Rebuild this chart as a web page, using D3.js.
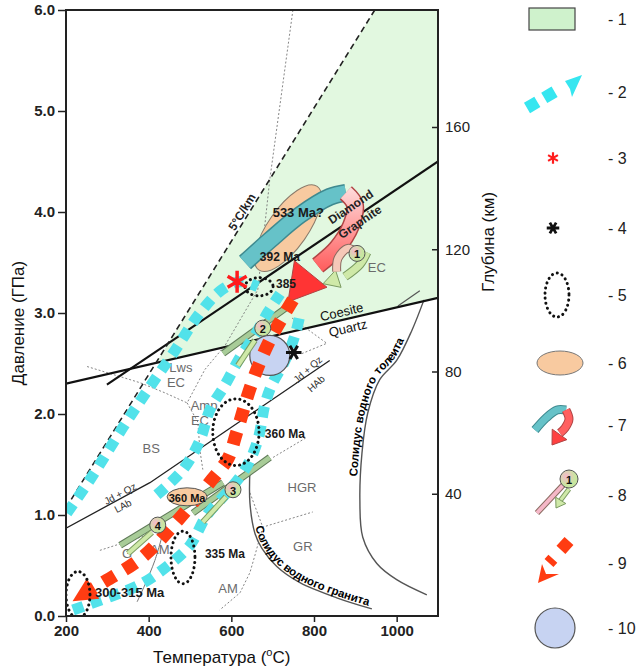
<!DOCTYPE html>
<html lang="ru">
<head>
<meta charset="utf-8">
<title>P-T diagram</title>
<script src="https://d3js.org/d3.v7.min.js"></script>
<style>
  body { margin: 0; background: #fff; }
  svg text { font-family: Arial, "Liberation Sans", sans-serif; }
</style>
</head>
<body>
<svg id="chart" width="642" height="670"></svg>
<script>
// ---- data (temperature °C, pressure GPa) ----
const tempTicks = [200, 400, 600, 800, 1000];
const pressTicks = [0, 1, 2, 3, 4, 5, 6];
const depthTicks = [40, 80, 120, 160];

const greenField = [[417, 2.50], [947, 6.0], [1100, 6.0], [1100, 3.15]];
const gradient5 = [[200, 1.07], [947, 6.0]];
const diamondGraphite = [[299, 2.29], [1100, 4.5]];
const coesiteQuartz = [[200, 2.30], [1100, 3.15]];
const jadeiteAlbite = [[200, 0.87], [403, 1.32], [838, 2.53]];
const wetGraniteSolidus = [[645, 1.45], [645, 1.12], [657, 0.82], [674, 0.67], [710, 0.49], [766, 0.33], [855, 0.18], [940, 0.07]];
const wetTholeiiteSolidus = [[1073, 0.21], [1000, 0.36], [952, 0.52], [918, 0.78], [911, 1.15], [916, 1.61], [930, 2.01], [959, 2.34], [1000, 2.53], [1037, 2.83], [1066, 3.13]];
const shortGrey = [[1003, 3.07], [1056, 3.22]];
const greyAm = [[435, 0.83], [415, 0.55], [391, 0.31], [372, 0.14]];
const faciesLines = [
  [[749, 6.0], [693, 4.32], [664, 3.23], [585, 2.68], [536, 2.44], [493, 2.11]],
  [[251, 2.47], [379, 2.31], [439, 2.21], [493, 2.11]],
  [[493, 2.11], [519, 1.92], [524, 1.64], [531, 1.45]],
  [[747, 2.95], [831, 2.70], [766, 2.59]],
  [[701, 1.57], [783, 1.77]],
  [[645, 1.22], [676, 0.88], [797, 1.03]],
  [[676, 0.88], [657, 0.60], [645, 0.43], [621, 0.23], [572, 0.06]],
  [[282, 0.65], [403, 0.81]]
];
const faciesNames = [["EC", 952, 3.45], ["Lws", 478, 2.46], ["EC", 466, 2.31], ["Amp", 534, 2.08], ["EC", 524, 1.94],
  ["BS", 406, 1.66], ["HGR", 771, 1.27], ["GR", 773, 0.69], ["AM", 592, 0.27], ["AM", 427, 0.66], ["G", 348, 0.62]];

const cyanPathA = [[202, 1.02], [258, 1.35], [338, 1.87], [403, 2.27], [459, 2.60], [524, 3.00], [577, 3.23], [621, 3.31], [664, 3.26]];
const cyanPathB = [[420, 1.20], [483, 1.45], [524, 1.74], [548, 2.04], [585, 2.29], [621, 2.56], [657, 2.78], [689, 3.01], [718, 3.19]];
const cyanPathC = [[217, 0.06], [306, 0.19], [379, 0.31], [444, 0.49], [500, 0.70], [541, 1.00], [589, 1.22], [633, 1.45], [664, 1.74], [681, 2.09], [698, 2.29], [730, 2.53], [754, 2.78], [766, 2.98]];
const redPath = [[749, 3.13], [693, 2.73], [650, 2.31], [613, 1.82], [592, 1.56], [553, 1.35], [471, 0.95], [384, 0.58], [289, 0.33], [253, 0.24]];

const loopTeal = [[633, 3.50], [693, 3.72], [766, 3.97], [838, 4.15], [877, 4.19]];
const loopRed = [[877, 4.19], [899, 4.07], [889, 3.86], [855, 3.64], [809, 3.47]];
const loopTip = [737, 3.11];

// dotted age ellipses: T, P, dT, dP
const dottedEllipses = [[667, 3.26, 34, 0.09], [611, 1.82, 56, 0.33], [483, 0.58, 29, 0.26], [229, 0.21, 29, 0.23]];
const peachAreas = [[737, 3.84], [493, 1.18]];
const ageLabels = [["533 Ma?", 700, 3.95], ["392 Ma", 669, 3.51], ["385", 708, 3.25], ["360 Ma", 681, 1.76], ["335 Ma", 536, 0.57], ["300-315 Ma", 270, 0.19]];

const stageNo = [1, 2, 3, 4];
const stageCircle = [[904, 3.59], [676, 2.85], [604, 1.25], [422, 0.90]];
const stageBars = [[[855, 3.41], [858, 3.54], [882, 3.64], [904, 3.59]], [[580, 2.60], [742, 3.08]], [[507, 1.02], [693, 1.57]], [[331, 0.70], [580, 1.32]]];
const stageArrows = [[[928, 3.60], [911, 3.48], [875, 3.36], [822, 3.29]], [[657, 2.73], [616, 2.48]], [[587, 1.18], [531, 0.93]], [[408, 0.83], [350, 0.62]]];

const peakRed = [614, 3.31];
const peakBlack = [751, 2.61];
const blueField = [693, 2.58];

const legendLabels = ["- 1", "- 2", "- 3", "- 4", "- 5", "- 6", "- 7", "- 8", "- 9", "- 10"];

// ---- scales ----
const svg = d3.select("#chart");
const x = d3.scaleLinear().domain([200, 1100]).range([66, 438]);
const y = d3.scaleLinear().domain([0, 6]).range([616, 10]);
const depth = d3.scaleLinear().domain([0, 160]).range([616, 127]);

const line = d3.line().x(d => x(d[0])).y(d => y(d[1]));
const smooth = d3.line().x(d => x(d[0])).y(d => y(d[1])).curve(d3.curveCatmullRom.alpha(0.5));

const defs = svg.append("defs");
defs.append("clipPath").attr("id", "clip").append("rect")
  .attr("x", 66).attr("y", 10).attr("width", 372).attr("height", 606);
const rg = defs.append("linearGradient").attr("id", "redgrad")
  .attr("gradientUnits", "userSpaceOnUse").attr("x1", 0).attr("y1", 190).attr("x2", 0).attr("y2", 300);
rg.append("stop").attr("offset", 0).attr("stop-color", "#ffd8d8");
rg.append("stop").attr("offset", 1).attr("stop-color", "#ff3030");
const cg = defs.append("radialGradient").attr("id", "stagegrad").attr("cx", "35%").attr("cy", "35%");
cg.append("stop").attr("offset", 0).attr("stop-color", "#f6b8cc");
cg.append("stop").attr("offset", 1).attr("stop-color", "#c8e6a0");

const plot = svg.append("g").attr("clip-path", "url(#clip)");

function text(g, str, px, py, o) {
  const t = g.append("text").attr("x", px).attr("y", py).text(str)
    .attr("font-size", o.size || 12).attr("fill", o.fill || "#111")
    .attr("font-weight", o.weight || "normal")
    .attr("text-anchor", o.anchor || "middle")
    .attr("dominant-baseline", o.base || "central");
  if (o.rot) t.attr("transform", `rotate(${o.rot},${px},${py})`);
  if (o.family) t.attr("font-family", o.family);
  return t;
}

function arrowHead(g, from, to, len, half, fill, stroke) {
  const dx = to[0] - from[0], dy = to[1] - from[1], L = Math.hypot(dx, dy);
  const ux = dx / L, uy = dy / L;
  const bx = to[0] - ux * len, by = to[1] - uy * len;
  g.append("path")
    .attr("d", `M${to[0]},${to[1]}L${bx - uy * half},${by + ux * half}L${bx + uy * half},${by - ux * half}Z`)
    .attr("fill", fill).attr("stroke", stroke || "none").attr("stroke-width", 1);
}

// field 1
plot.append("path").datum(greenField).attr("d", d => line(d) + "Z").attr("fill", "#e2f8e0");

// facies boundaries
plot.selectAll(".facies").data(faciesLines).join("path")
  .attr("d", line).attr("fill", "none").attr("stroke", "#777")
  .attr("stroke-width", 0.9).attr("stroke-dasharray", "2,2");
plot.append("path").datum(greyAm).attr("d", smooth).attr("fill", "none").attr("stroke", "#777").attr("stroke-width", 1);

// solidus curves
plot.append("path").datum(wetGraniteSolidus).attr("id", "granite").attr("d", smooth)
  .attr("fill", "none").attr("stroke", "#555").attr("stroke-width", 1.4);
plot.append("path").datum(wetTholeiiteSolidus).attr("id", "tholeiite").attr("d", smooth)
  .attr("fill", "none").attr("stroke", "#555").attr("stroke-width", 1.4);
plot.append("path").datum(shortGrey).attr("d", line).attr("stroke", "#555").attr("stroke-width", 1.2);

plot.append("text").attr("font-size", 11.5).attr("font-weight", "bold").attr("dy", -2)
  .append("textPath").attr("href", "#granite").attr("startOffset", 58).text("Солидус водного гранита");
plot.append("text").attr("font-size", 11.5).attr("font-weight", "bold").attr("dy", -3)
  .append("textPath").attr("href", "#tholeiite").attr("startOffset", 150).text("Солидус водного толеита");

// reaction lines
plot.append("path").datum(jadeiteAlbite).attr("d", line).attr("fill", "none").attr("stroke", "#222").attr("stroke-width", 1.3);
plot.append("path").datum(coesiteQuartz).attr("d", line).attr("stroke", "#111").attr("stroke-width", 2.2);
plot.append("path").datum(diamondGraphite).attr("d", line).attr("stroke", "#111").attr("stroke-width", 2.2);
plot.append("path").datum(gradient5).attr("d", line).attr("stroke", "#222")
  .attr("stroke-width", 1.6).attr("stroke-dasharray", "6,4");

// facies names
faciesNames.forEach(d => text(plot, d[0], x(d[1]), y(d[2]), { size: 13, fill: "#6b6b6b" }));

// peach age areas
plot.append("ellipse").attr("cx", x(peachAreas[0][0])).attr("cy", y(peachAreas[0][1]))
  .attr("rx", 51).attr("ry", 20).attr("transform", `rotate(-55,${x(peachAreas[0][0])},${y(peachAreas[0][1])})`)
  .attr("fill", "#f8caa0").attr("stroke", "#8a7a6a").attr("stroke-width", 1);

// exhumation loop (legend 7)
plot.append("path").datum(loopTeal).attr("d", smooth).attr("fill", "none").attr("stroke", "#3f8a90").attr("stroke-width", 18);
plot.append("path").datum(loopTeal).attr("d", smooth).attr("fill", "none").attr("stroke", "#66c2c8").attr("stroke-width", 15);
plot.append("path").datum(loopRed).attr("d", smooth).attr("fill", "none").attr("stroke", "#b04444").attr("stroke-width", 18);
plot.append("path").datum(loopRed).attr("d", smooth).attr("fill", "none").attr("stroke", "url(#redgrad)").attr("stroke-width", 15);
{
  const last = loopRed[loopRed.length - 1];
  const from = [x(last[0]) + 8, y(last[1]) - 10], to = [x(loopTip[0]), y(loopTip[1])];
  arrowHead(plot, from, to, 36, 21, "#ff3434", "#b04444");
}

// stage bars 2-4
stageBars.slice(1).forEach(b => {
  plot.append("path").datum(b).attr("d", line).attr("stroke", "#5f7a58").attr("stroke-width", 7);
  plot.append("path").datum(b).attr("d", line).attr("stroke", "#a8cc98").attr("stroke-width", 5);
});

// cyan prograde paths
[cyanPathA, cyanPathB, cyanPathC].forEach(p => {
  plot.append("path").datum(p).attr("d", smooth).attr("fill", "none")
    .attr("stroke", "#52e2ea").attr("stroke-width", 11).attr("stroke-dasharray", "11,8");
});

// blue field
plot.append("circle").attr("cx", x(blueField[0])).attr("cy", y(blueField[1])).attr("r", 20)
  .attr("fill", "#c7d3f2").attr("stroke", "#555").attr("stroke-width", 1.2);

// red exhumation path
plot.append("path").datum(redPath).attr("d", smooth).attr("fill", "none")
  .attr("stroke", "#ff3c12").attr("stroke-width", 13).attr("stroke-dasharray", "13,11");
{
  const a = redPath[redPath.length - 2], b = redPath[redPath.length - 1];
  const pa = [x(a[0]), y(a[1])], pb = [x(b[0]), y(b[1])];
  const L = Math.hypot(pb[0] - pa[0], pb[1] - pa[1]);
  const tip = [pb[0] + (pb[0] - pa[0]) / L * 18, pb[1] + (pb[1] - pa[1]) / L * 18];
  arrowHead(plot, pb, tip, 24, 12, "#ff3c12");
}

// small peach ellipse (360 Ma)
plot.append("ellipse").attr("cx", x(peachAreas[1][0])).attr("cy", y(peachAreas[1][1]))
  .attr("rx", 20).attr("ry", 9).attr("fill", "#f8caa0").attr("stroke", "#555").attr("stroke-width", 1);
text(plot, "360 Ma", x(peachAreas[1][0]), y(peachAreas[1][1]) + 1, { size: 11, weight: "bold", family: "'Liberation Serif', serif" });

// dotted age ellipses
plot.selectAll(".dotted").data(dottedEllipses).join("ellipse")
  .attr("cx", d => x(d[0])).attr("cy", d => y(d[1]))
  .attr("rx", d => x(d[0] + d[2]) - x(d[0])).attr("ry", d => y(d[1] - d[3]) - y(d[1]))
  .attr("fill", "none").attr("stroke", "#111").attr("stroke-width", 3)
  .attr("stroke-linecap", "round").attr("stroke-dasharray", "0.1,5");

// asterisks
plot.append("path").attr("d", d3.symbol().type(d3.symbolAsterisk).size(340)())
  .attr("transform", `translate(${x(peakRed[0])},${y(peakRed[1])})`)
  .attr("stroke", "#ff1c1c").attr("stroke-width", 3.5).attr("fill", "none");
plot.append("path").attr("d", d3.symbol().type(d3.symbolAsterisk).size(170)())
  .attr("transform", `translate(${x(peakBlack[0])},${y(peakBlack[1])}) rotate(90)`)
  .attr("stroke", "#111").attr("stroke-width", 3).attr("fill", "none");

// stage markers
stageArrows.forEach((a, i) => {
  const w = i === 0 ? 7 : 4;
  const pts = a.map(d => [x(d[0]), y(d[1])]);
  const body = pts.slice(0, -1);
  const path = d3.line().curve(d3.curveCatmullRom)(body.length > 1 ? body : pts);
  plot.append("path").attr("d", path).attr("fill", "none").attr("stroke", "#7a9a60").attr("stroke-width", w + 2);
  plot.append("path").attr("d", path).attr("fill", "none").attr("stroke", "#cfe9a8").attr("stroke-width", w);
  if (body.length > 1) arrowHead(plot, body[body.length - 1], pts[pts.length - 1], 16, 9, "#cfe9a8", "#7a9a60");
});
plot.append("path").datum(stageBars[0]).attr("d", smooth).attr("fill", "none").attr("stroke", "#8a6a60").attr("stroke-width", 9);
plot.append("path").datum(stageBars[0]).attr("d", smooth).attr("fill", "none").attr("stroke", "#f5c8b8").attr("stroke-width", 7);
stageCircle.forEach((c, i) => {
  plot.append("circle").attr("cx", x(c[0])).attr("cy", y(c[1])).attr("r", 8)
    .attr("fill", "url(#stagegrad)").attr("stroke", "#555").attr("stroke-width", 1);
  text(plot, stageNo[i], x(c[0]), y(c[1]) + 1, { size: 11, weight: "bold", family: "'Liberation Serif', serif" });
});

// age labels
ageLabels.forEach(d => text(plot, d[0], x(d[1]), y(d[2]), { size: d[0].length > 6 ? 13 : 12, weight: "bold", anchor: "start", base: "auto", fill: "#1a1a1a" }));

// line labels
text(plot, "Diamond", x(889), y(4.05), { size: 12, weight: "bold", rot: -34, fill: "#222" });
text(plot, "Graphite", x(911), y(3.90), { size: 12, weight: "bold", rot: -34, fill: "#222" });
text(plot, "Coesite", x(867), y(3.01), { size: 13, rot: -13 });
text(plot, "Quartz", x(882), y(2.85), { size: 13, rot: -13 });
text(plot, "Jd + Qz", x(785), y(2.44), { size: 10, rot: -42, fill: "#333" });
text(plot, "HAb", x(805), y(2.30), { size: 10, rot: -42, fill: "#333" });
text(plot, "Jd + Qz", x(331), y(1.21), { size: 10, rot: -28, fill: "#333" });
text(plot, "LAb", x(338), y(1.09), { size: 10, rot: -28, fill: "#333" });
text(plot, "5°C/km", x(626), y(4.0), { size: 12, weight: "bold", rot: -58, fill: "#222" });

// ---- frame and axes ----
svg.append("rect").attr("x", 66).attr("y", 10).attr("width", 372).attr("height", 606)
  .attr("fill", "none").attr("stroke", "#222").attr("stroke-width", 2);

const axL = svg.append("g").attr("transform", "translate(66,0)")
  .call(d3.axisLeft(y).tickValues(pressTicks).tickFormat(d3.format(".1f")).tickSize(8).tickPadding(3));
const axB = svg.append("g").attr("transform", "translate(0,616)")
  .call(d3.axisBottom(x).tickValues(tempTicks).tickFormat(d3.format("d")).tickSize(6).tickPadding(3));
const axR = svg.append("g").attr("transform", "translate(438,0)")
  .call(d3.axisRight(depth).tickValues(depthTicks).tickSizeInner(-6).tickSizeOuter(0).tickPadding(7));
[axL, axB, axR].forEach(a => {
  a.select(".domain").remove();
  a.selectAll("line").attr("stroke", "#222").attr("stroke-width", 1.5);
  a.selectAll("text").attr("font-size", 15).attr("fill", "#222")
    .attr("font-family", "Arial, 'Liberation Sans', sans-serif");
});
axL.selectAll("text").attr("font-weight", "bold");
axB.selectAll("text").attr("font-weight", "bold");

text(svg, "Давление (ГПа)", 18, 323, { size: 17, rot: -90 });
text(svg, "Глубина (км)", 488, 242, { size: 17, rot: -90 });
const tl = svg.append("text").attr("x", 153).attr("y", 663).attr("font-size", 17).attr("fill", "#111");
tl.append("tspan").text("Температура (");
tl.append("tspan").text("o").attr("font-size", 11).attr("dy", -7);
tl.append("tspan").text("C)").attr("dy", 7);

// ---- legend ----
const legY = [19, 92, 158, 228, 295, 363, 425, 495, 563, 628];
const leg = svg.append("g");
legendLabels.forEach((s, i) => text(leg, s, 608, legY[i], { size: 16, anchor: "start", fill: "#222" }));
const L = i => leg.append("g").attr("transform", `translate(553,${legY[i]})`);

L(0).append("rect").attr("x", -24).attr("y", -11).attr("width", 46).attr("height", 22)
  .attr("fill", "#cff2cc").attr("stroke", "#444").attr("stroke-width", 1.2);
{
  const g = L(1);
  g.append("path").attr("d", "M-26,16L8,-4").attr("stroke", "#36e6f0").attr("stroke-width", 12).attr("stroke-dasharray", "12,8");
  g.append("path").attr("d", "M12,-11L29,-17L19,5L17,-3Z").attr("fill", "#36e6f0");
}
L(2).append("path").attr("d", d3.symbol().type(d3.symbolAsterisk).size(90)()).attr("stroke", "#ff1c1c").attr("stroke-width", 2.2);
L(3).append("path").attr("d", d3.symbol().type(d3.symbolAsterisk).size(110)()).attr("transform", "rotate(90)").attr("stroke", "#111").attr("stroke-width", 2.8);
L(4).append("ellipse").attr("cx", 4).attr("rx", 12).attr("ry", 22).attr("fill", "none").attr("stroke", "#111")
  .attr("stroke-width", 3).attr("stroke-linecap", "round").attr("stroke-dasharray", "0.1,5");
L(5).append("ellipse").attr("cx", 7).attr("rx", 23).attr("ry", 12).attr("fill", "#f8caa0").attr("stroke", "#777");
{
  const g = L(6);
  const c = d3.line().curve(d3.curveCatmullRom);
  g.append("path").attr("d", c([[-18, 5], [-7, -7], [4, -15], [13, -15]])).attr("fill", "none").attr("stroke", "#3f8a90").attr("stroke-width", 9);
  g.append("path").attr("d", c([[-18, 5], [-7, -7], [4, -15], [13, -15]])).attr("fill", "none").attr("stroke", "#66c2c8").attr("stroke-width", 7);
  g.append("path").attr("d", c([[13, -15], [16, -6], [12, 3], [7, 8]])).attr("fill", "none").attr("stroke", "#b04444").attr("stroke-width", 9);
  g.append("path").attr("d", c([[13, -15], [16, -6], [12, 3], [7, 8]])).attr("fill", "none").attr("stroke", "#ff6060").attr("stroke-width", 7);
  arrowHead(g, [9, 6], [-1, 20], 13, 9, "#ff4040", "#b04444");
}
{
  const g = L(7);
  g.append("path").attr("d", "M-16,18L12,-12").attr("stroke", "#8a6a60").attr("stroke-width", 6);
  g.append("path").attr("d", "M-16,18L12,-12").attr("stroke", "#f5b8c8").attr("stroke-width", 4);
  g.append("path").attr("d", "M16,-6L7,6").attr("stroke", "#7a9a60").attr("stroke-width", 5);
  g.append("path").attr("d", "M16,-6L7,6").attr("stroke", "#cfe9a8").attr("stroke-width", 3);
  arrowHead(g, [8, 5], [3, 13], 9, 6, "#cfe9a8", "#7a9a60");
  g.append("circle").attr("cx", 16).attr("cy", -16).attr("r", 9).attr("fill", "url(#stagegrad)").attr("stroke", "#555");
  text(g, "1", 16, -15, { size: 11, weight: "bold", family: "'Liberation Serif', serif" });
}
{
  const g = L(8);
  g.append("path").attr("d", "M16,-22L-4,0").attr("stroke", "#ff3c12").attr("stroke-width", 12).attr("stroke-dasharray", "12,12");
  g.append("path").attr("d", "M-15,20L-11,1L-7,11L6,11Z").attr("fill", "#ff3c12");
}
L(9).append("circle").attr("cx", 2).attr("r", 20).attr("fill", "#c7d3f2").attr("stroke", "#555").attr("stroke-width", 1.2);
</script>
</body>
</html>
